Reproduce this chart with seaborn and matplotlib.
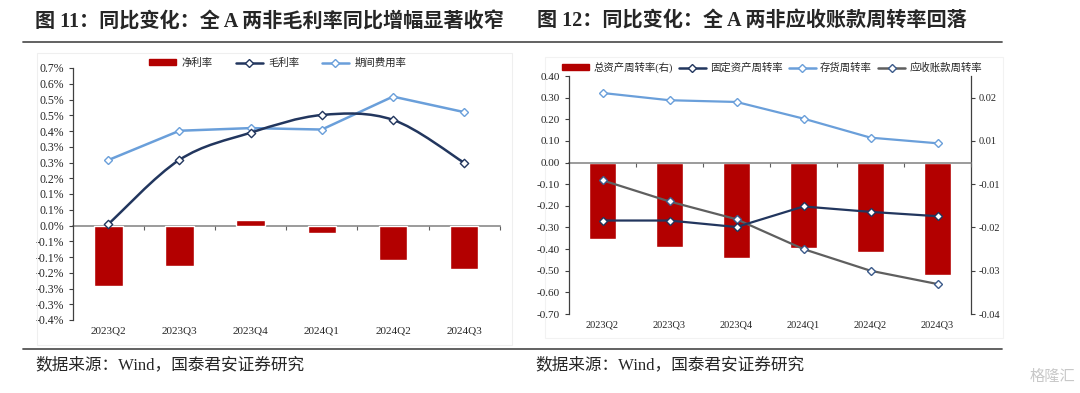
import numpy as np
import pandas as pd
import seaborn as sns
import matplotlib.pyplot as plt
from matplotlib.path import Path
from matplotlib.patches import PathPatch, Patch, Rectangle
from matplotlib.lines import Line2D
from matplotlib.ticker import FuncFormatter

# 数据
quarters = ["2023Q2", "2023Q3", "2023Q4", "2024Q1", "2024Q2", "2024Q3"]

# 图 11 (单位: %)
net_margin = [-0.251, -0.166, 0.023, -0.029, -0.141, -0.178]
gross_margin = [0.005, 0.271, 0.383, 0.456, 0.436, 0.259]
expense_ratio = [0.270, 0.391, 0.402, 0.396, 0.532, 0.468]
left_tick_labels = ["-0.4%", "-0.3%", "-0.3%", "-0.2%", "-0.1%", "-0.1%", "0.0%", "0.1%",
                    "0.1%", "0.2%", "0.3%", "0.3%", "0.4%", "0.5%", "0.5%", "0.6%", "0.7%"]

# 图 12
total_asset_turn = [-0.0201, -0.0222, -0.0252, -0.0226, -0.0236, -0.0296]  # 右轴
fixed_asset_turn = [-0.268, -0.268, -0.298, -0.203, -0.228, -0.248]
inventory_turn = [0.3215, 0.288, 0.280, 0.203, 0.115, 0.089]
receivable_turn = [-0.082, -0.180, -0.262, -0.400, -0.500, -0.5615]

RED = "#B30000"
NAVY = "#22365E"
LBLUE = "#6A9FDA"
GRAY = "#5F5F5F"
AXC = "#404040"

sns.set_style("white")
plt.rcParams["font.family"] = ["Liberation Serif", "Noto Sans CJK SC", "DejaVu Sans"]
plt.rcParams["axes.unicode_minus"] = False

pos = np.arange(len(quarters))
bounds = pos + 0.5


def smooth_path(x, y):
    # Excel 风格的平滑线 (Catmull-Rom -> 贝塞尔)
    pts = np.column_stack([x, y]).astype(float)
    n = len(pts)
    verts = [pts[0]]
    codes = [Path.MOVETO]
    for i in range(n - 1):
        p0 = pts[max(i - 1, 0)]
        p1 = pts[i]
        p2 = pts[i + 1]
        p3 = pts[min(i + 2, n - 1)]
        verts += [p1 + (p2 - p0) / 6, p2 - (p3 - p1) / 6, p2]
        codes += [Path.CURVE4] * 3
    return Path(verts, codes)


def style_cat_axis(ax, fs):
    ax.set_xlim(-0.5, len(quarters) - 0.5)
    ax.spines["bottom"].set_visible(False)
    ax.spines["top"].set_visible(False)
    ax.spines["right"].set_visible(False)
    ax.spines["left"].set_color(AXC)
    ax.spines["left"].set_linewidth(0.9)
    ax.set_xticks(pos)
    ax.set_xticklabels(quarters, fontsize=fs)
    ax.tick_params(axis="x", length=0, pad=5)
    ax.tick_params(axis="y", length=3, width=0.8, direction="out", color=AXC, left=True)
    # 零轴 + 分类刻度
    sec = ax.secondary_xaxis(0, transform=ax.transData)
    sec.set_xticks(bounds)
    sec.tick_params(length=3, width=0.8, direction="out", color=GRAY, labelbottom=False)
    sec.spines["bottom"].set_color("#808080")
    sec.spines["bottom"].set_linewidth(1.1)
    ax.set_xlabel("")
    ax.set_ylabel("")


fig = plt.figure(figsize=(10.8, 3.93), dpi=100)

# 背景框
fig.add_artist(Rectangle((37 / 1080, 1 - 345 / 393), 475 / 1080, 292 / 393,
                         transform=fig.transFigure, fill=False, edgecolor="#EFEFEF", lw=0.8))
fig.add_artist(Rectangle((545 / 1080, 1 - 338 / 393), 458 / 1080, 281 / 393,
                         transform=fig.transFigure, fill=False, edgecolor="#F2F2F2", lw=0.8))

# ---------------- 图 11 ----------------
ax = fig.add_axes([72.7 / 1080, 1 - 320 / 393, 427 / 1080, 252 / 393])
sns.barplot(x=pos, y=net_margin, ax=ax, color=RED, width=0.4, native_scale=True,
            saturation=1, zorder=2)
sns.lineplot(x=pos, y=expense_ratio, ax=ax, color=LBLUE, lw=1.8, marker="D", ms=4.5,
             mfc="white", mec=LBLUE, mew=1, zorder=3)
ax.add_patch(PathPatch(smooth_path(pos, gross_margin), fill=False, edgecolor=NAVY,
                       lw=1.8, zorder=4))
sns.scatterplot(x=pos, y=gross_margin, ax=ax, marker="D", s=18, color="white",
                edgecolor=NAVY, linewidth=1, zorder=5)
ax.set_ylim(-0.39, 0.65)
ax.set_yticks(np.arange(-6, 11) * 0.065)
ax.set_yticklabels(left_tick_labels, fontsize=8.5)
style_cat_axis(ax, 8)

h1 = [Patch(color=RED),
      Line2D([], [], color=NAVY, lw=1.8, marker="D", ms=4, mfc="white", mec=NAVY),
      Line2D([], [], color=LBLUE, lw=1.8, marker="D", ms=4, mfc="white", mec=LBLUE)]
ax.legend(h1, ["净利率", "毛利率", "期间费用率"], loc="center", bbox_to_anchor=(0.48, 1.02),
          ncol=3, frameon=False, fontsize=7.5, handlelength=2.6, handleheight=0.5,
          columnspacing=2.2, handletextpad=0.5)

# ---------------- 图 12 ----------------
axl = fig.add_axes([569 / 1080, 1 - 314 / 393, 402 / 1080, 238 / 393])
axr = axl.twinx()
sns.barplot(x=pos, y=total_asset_turn, ax=axr, color=RED, width=0.4, native_scale=True,
            saturation=1)
axl.set_zorder(axr.get_zorder() + 1)
axl.patch.set_visible(False)

sns.lineplot(x=pos, y=inventory_turn, ax=axl, color=LBLUE, lw=1.6, marker="D", ms=4.5,
             mfc="white", mec=LBLUE, mew=1)
sns.lineplot(x=pos, y=receivable_turn, ax=axl, color=GRAY, lw=1.6, marker="D", ms=4.5,
             mfc="white", mec="#3B5A8A", mew=1)
sns.lineplot(x=pos, y=fixed_asset_turn, ax=axl, color=NAVY, lw=1.6, marker="D", ms=4.5,
             mfc="white", mec=NAVY, mew=1)

axl.set_ylim(-0.7, 0.4)
axl.set_yticks(np.arange(-7, 5) * 0.1)
axl.yaxis.set_major_formatter(FuncFormatter(lambda v, p: f"{v:.2f}"))
axl.tick_params(axis="y", labelsize=8)
style_cat_axis(axl, 7.5)

axr.set_xlim(-0.5, len(quarters) - 0.5)
axr.set_ylim(-0.04, 0.04 / 3.5 * 5.5 - 0.04)
axr.set_yticks(-0.04 + np.arange(6) * 0.04 / 3.5)
axr.yaxis.set_major_formatter(FuncFormatter(lambda v, p: f"{v:.2f}"))
axr.tick_params(axis="y", labelsize=7.5, length=3, width=0.8, direction="out", color=AXC,
                right=True, pad=2.5)
for s in ["top", "bottom", "left"]:
    axr.spines[s].set_visible(False)
axr.spines["right"].set_color(AXC)
axr.spines["right"].set_linewidth(0.9)
axr.set_ylabel("")
axr.set_xlabel("")

h2 = [Patch(color=RED),
      Line2D([], [], color=NAVY, lw=1.8, marker="D", ms=4, mfc="white", mec=NAVY),
      Line2D([], [], color=LBLUE, lw=1.8, marker="D", ms=4, mfc="white", mec=LBLUE),
      Line2D([], [], color=GRAY, lw=1.8, marker="D", ms=4, mfc="white", mec="#3B5A8A")]
axl.legend(h2, ["总资产周转率(右)", "固定资产周转率", "存货周转率", "应收账款周转率"],
           loc="center", bbox_to_anchor=(0.505, 1.035), ncol=4, frameon=False, fontsize=7.5,
           handlelength=2.6, handleheight=0.5, columnspacing=0.6, handletextpad=0.4)

# 标题、分隔线、来源
fig.text(35 / 1080, 1 - 22 / 393, "图 11：同比变化：全 A 两非毛利率同比增幅显著收窄",
         fontsize=14.5, fontweight="bold", va="center", ha="left")
fig.text(537 / 1080, 1 - 22 / 393, "图 12：同比变化：全 A 两非应收账款周转率回落",
         fontsize=14.5, fontweight="bold", va="center", ha="left")
fig.add_artist(Line2D([23 / 1080, 1002 / 1080], [1 - 42 / 393] * 2, color="#555555", lw=1.3))
fig.add_artist(Line2D([23 / 1080, 1002 / 1080], [1 - 349 / 393] * 2, color="#555555", lw=1.3))
fig.text(35 / 1080, 1 - 365 / 393, "数据来源：Wind，国泰君安证券研究", fontsize=12,
         va="center", ha="left")
fig.text(535 / 1080, 1 - 365 / 393, "数据来源：Wind，国泰君安证券研究", fontsize=12,
         va="center", ha="left")
fig.text(1075 / 1080, 1 - 377 / 393, "格隆汇", fontsize=11, color="#C8C8C8",
         va="center", ha="right")

fig.savefig("out.png", dpi=100)
